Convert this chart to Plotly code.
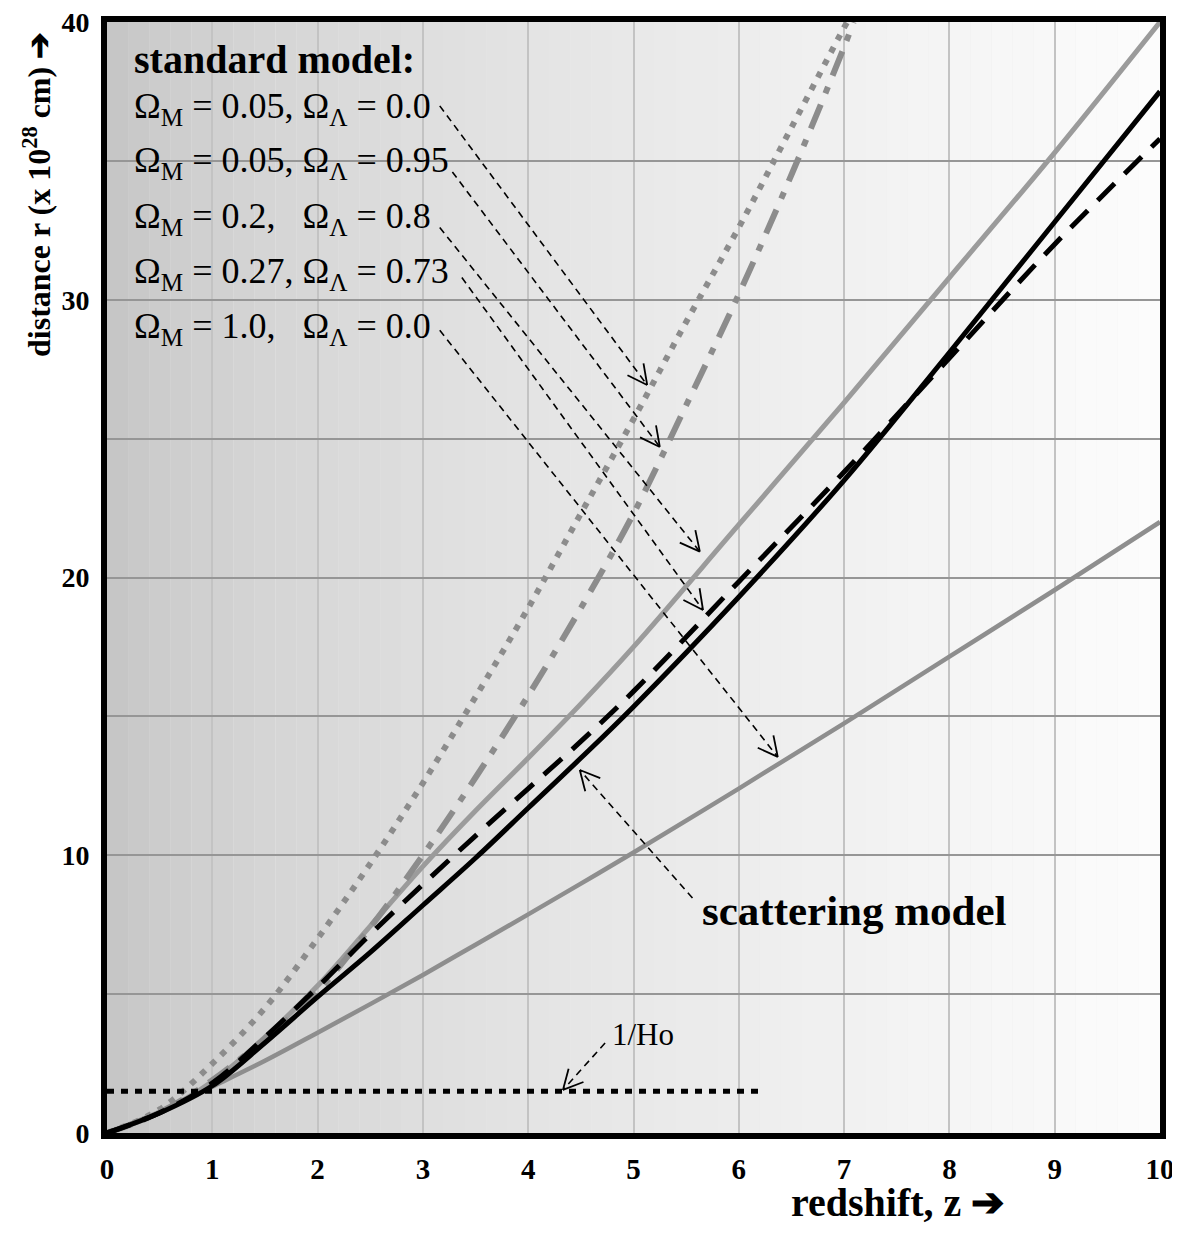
import math
import plotly.graph_objects as go

# ---------------- data ----------------
z_open = [0, 0.5, 1, 1.5, 2, 2.5, 3, 3.5, 4, 4.5, 5, 5.5, 6, 6.5, 7, 7.03]
r_open = [0, 0.85, 2.5, 4.5, 7.0, 9.7, 12.6, 15.7, 18.9, 22.3, 25.7, 29.2, 32.6, 36.2, 39.8, 40]

z_lam95 = [0, 0.5, 1, 1.5, 2, 2.5, 3, 3.5, 4, 4.5, 5, 5.5, 6, 6.5, 7, 7.09]
r_lam95 = [0, 0.74, 1.9, 3.4, 5.1, 7.4, 10.0, 12.8, 15.75, 18.9, 22.3, 26.2, 30.2, 34.5, 39.1, 40]

z_std = [0, 0.5, 1, 1.5, 2, 2.5, 3, 3.5, 4, 4.5, 5, 6, 7, 8, 9, 10]
r_lam80 = [0, 0.73, 1.85, 3.45, 5.3, 7.45, 9.6, 11.6, 13.5, 15.45, 17.5, 21.9, 26.3, 30.8, 35.3, 40]
r_lam73 = [0, 0.73, 1.8, 3.45, 5.25, 7.15, 8.95, 10.7, 12.4, 14.1, 15.9, 19.85, 23.8, 27.9, 32.0, 35.8]
r_eds = [0, 0.76, 1.67, 2.6, 3.61, 4.64, 5.69, 6.78, 7.87, 8.98, 10.1, 12.4, 14.75, 17.15, 19.55, 22.0]
r_scatter = [0, 0.72, 1.7, 3.25, 4.9, 6.5, 8.2, 9.9, 11.7, 13.5, 15.35, 19.3, 23.5, 28.1, 32.8, 37.5]

z_hubble = [0, 6.2]
r_hubble = [1.5, 1.5]

x_ticks = list(range(0, 11))
y_ticks = [0, 5, 10, 15, 20, 25, 30, 35, 40]
y_ticktext = ["0", "", "10", "", "20", "", "30", "", "40"]

labels = [
    "Ω<sub>M</sub> = 0.05, Ω<sub>Λ</sub> = 0.0",
    "Ω<sub>M</sub> = 0.05, Ω<sub>Λ</sub> = 0.95",
    "Ω<sub>M</sub> = 0.2,   Ω<sub>Λ</sub> = 0.8",
    "Ω<sub>M</sub> = 0.27, Ω<sub>Λ</sub> = 0.73",
    "Ω<sub>M</sub> = 1.0,   Ω<sub>Λ</sub> = 0.0",
]

SERIF = "Liberation Serif, Times New Roman, serif"
# page body has an 8px margin: figure sized to fill the 1180x1239 window from there
OFF = 8
W, H = 1180 - OFF, 1239 - OFF
ML, MT = 107 - OFF, 22 - OFF
PW, PH = 1053, 1111
MR, MB = W - ML - PW, H - MT - PH
PXX = PW / 10.0
PXY = PH / 40.0


def px_to_paper(sx, sy):
    """screen pixel (in the final picture) -> paper coordinates"""
    return (sx - OFF - ML) / PW, (H - MB - (sy - OFF)) / PH


fig = go.Figure()

GRAY = "rgb(140,140,140)"
fig.add_trace(go.Scatter(x=z_std, y=r_eds, mode="lines", line=dict(color="rgb(142,142,142)", width=4.5, shape="spline"), showlegend=False))
fig.add_trace(go.Scatter(x=z_std, y=r_lam80, mode="lines", line=dict(color="rgb(155,155,155)", width=5, shape="spline"), showlegend=False))
fig.add_trace(go.Scatter(x=z_lam95, y=r_lam95, mode="lines", line=dict(color=GRAY, width=6, shape="spline", dash="26px,12px,7px,12px"), showlegend=False))
fig.add_trace(go.Scatter(x=z_open, y=r_open, mode="lines", line=dict(color=GRAY, width=6, shape="spline", dash="6px,8px"), showlegend=False))
fig.add_trace(go.Scatter(x=z_std, y=r_lam73, mode="lines", line=dict(color="black", width=5, shape="spline", dash="24px,14px"), showlegend=False))
fig.add_trace(go.Scatter(x=z_std, y=r_scatter, mode="lines", line=dict(color="black", width=5, shape="spline"), showlegend=False))
fig.add_trace(go.Scatter(x=z_hubble, y=r_hubble, mode="lines", line=dict(color="black", width=5, dash="7px,7px"), showlegend=False))

# background gradient (decorative stripes)
N = 50
shapes = []
for i in range(N):
    t = (i + 0.5) / N
    c = int(round(194 + (252 - 194) * (t ** 0.6)))
    shapes.append(dict(type="rect", xref="x", yref="paper", x0=10.0 * i / N, x1=10.0 * (i + 1) / N,
                       y0=0, y1=1, fillcolor=f"rgb({c},{c},{c})", line=dict(width=0), layer="below"))

# dashed pointer lines: (start, tip) in data coordinates
pointers = [
    ((3.16, 36.98), (5.13, 26.93)),
    ((3.28, 34.6), (5.25, 24.7)),
    ((3.16, 32.6), (5.63, 20.93)),
    ((3.37, 30.8), (5.66, 18.83)),
    ((3.16, 28.9), (6.37, 13.54)),
    ((5.56, 8.46), (4.49, 13.07)),
    ((4.73, 3.24), (4.33, 1.55)),
]
ARM = 22.0
HALF = math.radians(27)
for (x0, y0), (x1, y1) in pointers:
    shapes.append(dict(type="line", xref="x", yref="y", x0=x0, y0=y0, x1=x1, y1=y1,
                       line=dict(color="black", width=1.6, dash="7px,5px"), layer="above"))
    dxp = (x0 - x1) * PXX
    dyp = (y0 - y1) * PXY
    L = math.hypot(dxp, dyp)
    ux, uy = dxp / L, dyp / L
    for s in (1, -1):
        ca, sa = math.cos(s * HALF), math.sin(s * HALF)
        vx = (ux * ca - uy * sa) * ARM
        vy = (ux * sa + uy * ca) * ARM
        shapes.append(dict(type="line", xref="x", yref="y", x0=x1, y0=y1,
                           x1=x1 + vx / PXX, y1=y1 + vy / PXY,
                           line=dict(color="black", width=1.8), layer="above"))

annotations = []
annotations.append(dict(x=0.24, y=38.65, xref="x", yref="y", text="<b>standard model:</b>", showarrow=False,
                        xanchor="left", yanchor="middle", font=dict(family=SERIF, size=40, color="black")))
ys = [36.9, 34.93, 32.94, 30.96, 28.98]
for txt, yy in zip(labels, ys):
    annotations.append(dict(x=0.24, y=yy, xref="x", yref="y", text=txt, showarrow=False,
                            xanchor="left", yanchor="middle", font=dict(family=SERIF, size=36, color="black")))
annotations.append(dict(x=5.63, y=8.0, xref="x", yref="y", text="<b>scattering model</b>", showarrow=False,
                        xanchor="left", yanchor="middle", font=dict(family=SERIF, size=43, color="black")))
annotations.append(dict(x=4.78, y=3.55, xref="x", yref="y", text="1/Ho", showarrow=False,
                        xanchor="left", yanchor="middle", font=dict(family=SERIF, size=31, color="black")))
tx, ty = px_to_paper(37, 195)
annotations.append(dict(x=tx, y=ty, xref="paper", yref="paper",
                        text="<b>distance r (x 10<sup>28</sup> cm) ➔</b>", showarrow=False, textangle=-90,
                        xanchor="center", yanchor="middle", font=dict(family=SERIF, size=32, color="black")))
tx, ty = px_to_paper(898, 1202)
annotations.append(dict(x=tx, y=ty, xref="paper", yref="paper",
                        text="<b>redshift, z ➔</b>", showarrow=False,
                        xanchor="center", yanchor="middle", font=dict(family=SERIF, size=40, color="black")))

fig.update_layout(
    width=W, height=H,
    margin=dict(l=ML, r=MR, t=MT, b=MB, autoexpand=False),
    paper_bgcolor="white", plot_bgcolor="rgb(235,235,235)",
    shapes=shapes, annotations=annotations, showlegend=False,
    xaxis=dict(range=[0, 10], tickvals=x_ticks, showgrid=True, gridcolor="rgb(195,195,195)", gridwidth=2,
               zeroline=False, showline=True, linecolor="black", linewidth=6, mirror=True, automargin=False,
               ticks="outside", ticklen=5, tickcolor="rgba(0,0,0,0)", ticklabeloverflow="allow",
               tickfont=dict(family=SERIF, size=29, color="black", weight="bold")),
    yaxis=dict(range=[0, 40], tickvals=y_ticks, ticktext=y_ticktext, showgrid=True, gridcolor="rgb(150,150,150)",
               gridwidth=2, zeroline=False, showline=True, linecolor="black", linewidth=6, mirror=True, automargin=False,
               ticks="outside", ticklen=6, tickcolor="rgba(0,0,0,0)", ticklabeloverflow="allow",
               tickfont=dict(family=SERIF, size=28, color="black", weight="bold")),
)

fig.write_html("out.html")
